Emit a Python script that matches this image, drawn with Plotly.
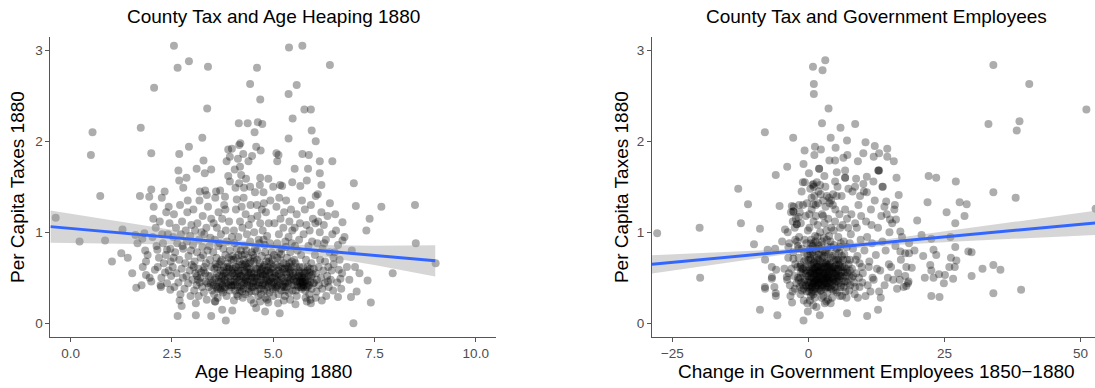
import plotly.graph_objects as go

# ---------------- data ----------------
tax_ticks = [0, 1, 2, 3]
age_ticks = [0, 2.5, 5, 7.5, 10]
age_tick_labels = ["0.0", "2.5", "5.0", "7.5", "10.0"]
emp_ticks = [-25, 0, 25, 50]
emp_tick_labels = ["\u221225", "0", "25", "50"]

# (age heaping 1880, per capita taxes 1880)
age_points = [
    (-0.37, 1.16), (0.22, 0.90), (0.50, 1.85), (0.54, 2.10), (0.73, 1.40), (0.85, 0.91), (1.02, 0.68), (1.25, 0.77), (1.28, 1.03), (1.41, 0.72),
    (1.60, 0.97), (1.62, 0.39), (1.73, 2.15), (1.71, 1.40), (1.75, 0.42), (1.77, 0.93), (1.82, 0.99), (1.84, 0.80), (1.86, 0.68), (1.86, 0.53),
    (1.94, 1.39), (1.99, 1.87), (1.99, 1.47), (2.05, 1.28), (2.04, 1.15), (2.06, 2.59), (1.99, 0.46), (2.08, 0.59), (2.14, 0.81), (2.23, 0.40),
    (2.25, 1.38), (2.26, 0.98), (2.33, 0.56), (2.38, 0.81), (2.42, 1.28), (2.46, 0.37), (2.55, 3.05), (2.64, 2.81), (2.64, 0.08), (2.68, 1.86),
    (2.68, 1.57), (2.74, 0.19), (2.92, 2.88), (2.92, 1.94), (3.09, 0.09), (3.11, 1.70), (3.25, 2.04), (3.28, 1.79), (3.37, 2.36), (3.39, 2.82),
    (3.47, 0.08), (3.47, 1.69), (3.83, 0.03), (4.43, 2.63), (4.60, 2.81), (4.68, 2.46), (4.62, 2.21), (4.73, 2.19), (4.37, 2.20), (4.15, 2.20),
    (4.19, 1.98), (4.54, 2.10), (5.39, 3.03), (5.72, 3.05), (6.40, 2.84), (5.58, 2.62), (5.38, 2.52), (5.77, 2.35), (5.93, 2.35), (5.48, 2.25),
    (5.95, 2.12), (6.05, 2.00), (5.38, 2.03), (5.72, 1.86), (5.88, 1.85), (6.15, 1.78), (6.46, 1.78), (6.15, 1.65), (6.19, 1.52), (6.05, 1.40),
    (6.99, 1.54), (7.04, 1.29), (7.67, 1.28), (8.50, 1.30), (7.38, 1.15), (7.30, 1.02), (8.52, 0.88), (9.01, 0.66), (7.95, 0.55), (7.33, 0.47),
    (7.41, 0.23), (7.13, 0.55), (7.02, 0.62), (7.06, 0.35), (6.92, 0.29), (6.98, 0.00), (6.71, 1.11), (6.53, 1.20), (6.55, 1.02), (6.71, 0.91),
    (6.60, 0.86), (6.49, 0.65), (6.62, 0.59), (6.66, 0.49), (6.60, 0.29), (5.93, 0.22), (5.83, 0.24), (5.55, 0.21), (5.16, 0.11), (4.80, 0.13),
    (4.88, 0.23), (4.58, 0.17), (3.99, 0.14), (3.74, 0.15), (3.56, 0.24),
    (3.98, 1.92), (3.89, 1.91), (4.16, 1.96), (4.58, 1.94), (4.69, 1.90), (5.08, 1.87), (5.13, 1.85), (4.26, 1.86), (4.48, 1.84), (4.13, 1.81),
    (4.39, 1.78), (3.85, 1.78), (3.93, 1.83), (3.31, 1.65), (5.53, 1.70), (5.86, 1.70), (5.83, 1.57), (5.47, 1.55), (5.67, 1.51), (3.89, 1.62),
    (3.93, 1.56), (4.05, 1.69), (4.18, 1.72), (4.21, 1.63), (4.33, 1.59), (4.68, 1.60), (4.88, 1.59), (4.07, 1.49), (4.28, 1.49), (4.43, 1.50),
    (4.55, 1.44), (4.76, 1.44), (5.00, 1.50), (5.22, 1.51), (3.69, 1.46), (3.32, 1.46), (3.59, 1.45), (2.66, 1.68), (2.86, 1.60), (2.78, 1.49),
    (3.19, 1.45), (3.36, 1.41), (3.81, 1.39), (4.16, 1.54), (4.67, 1.52), (5.10, 1.78), (5.17, 1.52),
    (1.52, 0.55), (1.65, 0.88), (1.78, 0.62), (1.90, 0.75), (1.95, 0.50),
    (2.02, 0.95), (2.10, 1.05), (2.15, 0.62), (2.18, 0.72), (2.20, 1.12), (2.24, 0.50), (2.28, 0.88), (2.30, 0.66), (2.32, 1.45), (2.35, 0.75),
    (2.38, 0.44), (2.40, 0.98), (2.42, 0.58), (2.44, 1.10), (2.46, 0.82), (2.48, 0.52), (2.12, 0.85), (2.22, 0.42), (2.36, 1.22), (2.47, 0.68),
    (2.52, 0.62), (2.53, 0.95), (2.55, 1.20), (2.56, 0.40), (2.58, 0.78), (2.60, 1.05), (2.61, 0.55), (2.63, 0.88), (2.66, 0.45), (2.68, 0.70),
    (2.70, 1.30), (2.71, 0.32), (2.72, 0.98), (2.74, 0.60), (2.75, 1.12), (2.77, 0.50), (2.78, 0.82), (2.81, 0.38), (2.83, 0.66), (2.84, 1.02),
    (2.86, 0.52), (2.87, 0.90), (2.88, 1.22), (2.90, 0.44), (2.91, 0.74), (2.94, 0.58), (2.95, 0.96), (2.96, 0.30), (2.98, 1.08), (2.99, 0.64),
    (2.69, 0.25), (2.76, 0.85), (2.89, 1.35), (2.97, 0.80), (2.54, 0.72),
    (3.01, 0.48), (3.02, 0.86), (3.03, 1.25), (3.05, 0.36), (3.06, 0.68), (3.07, 1.02), (3.08, 0.55), (3.11, 0.42), (3.12, 0.78), (3.13, 1.10),
    (3.15, 0.60), (3.16, 0.30), (3.17, 0.92), (3.18, 1.35), (3.20, 0.50), (3.21, 0.72), (3.24, 0.40), (3.25, 0.84), (3.26, 1.18), (3.28, 0.58),
    (3.29, 0.34), (3.30, 0.98), (3.33, 0.46), (3.34, 0.66), (3.35, 1.05), (3.36, 0.26), (3.38, 0.80), (3.39, 1.28), (3.40, 0.52), (3.41, 0.40),
    (3.44, 0.70), (3.45, 0.94), (3.46, 0.44), (3.47, 1.15), (3.48, 0.62), (3.49, 0.36), (3.04, 0.62), (3.09, 0.22), (3.19, 0.45), (3.27, 0.75),
    (3.32, 0.55), (3.43, 0.85), (3.23, 1.00), (3.12, 0.52),
    (3.51, 0.45), (3.52, 0.78), (3.53, 1.10), (3.54, 0.32), (3.55, 0.60), (3.56, 0.92), (3.57, 1.38), (3.58, 0.50), (3.59, 0.40), (3.60, 0.72),
    (3.61, 1.05), (3.62, 0.55), (3.63, 0.28), (3.64, 0.85), (3.65, 1.22), (3.66, 0.46), (3.67, 0.65), (3.69, 0.38), (3.70, 0.58), (3.71, 0.98),
    (3.72, 0.44), (3.73, 0.70), (3.74, 1.15), (3.75, 0.52), (3.76, 0.34), (3.77, 0.82), (3.78, 0.62), (3.79, 1.30), (3.80, 0.48), (3.81, 0.40),
    (3.82, 0.75), (3.83, 1.02), (3.84, 0.56), (3.85, 0.30), (3.86, 0.90), (3.87, 0.66), (3.89, 0.45), (3.90, 0.60), (3.91, 1.12), (3.92, 0.36),
    (3.93, 0.80), (3.94, 0.52), (3.96, 0.42), (3.97, 0.70), (3.98, 0.95), (3.99, 0.55), (3.53, 0.42), (3.58, 0.65), (3.62, 0.38), (3.66, 0.52),
    (3.71, 0.46), (3.75, 0.42), (3.79, 0.55), (3.84, 0.44), (3.88, 0.50), (3.92, 0.62), (3.97, 0.40), (3.57, 0.24), (3.68, 0.88), (3.82, 1.25),
    (4.01, 0.42), (4.02, 0.70), (4.03, 1.02), (4.04, 0.52), (4.06, 0.36), (4.07, 0.62), (4.08, 1.25), (4.09, 0.45), (4.10, 0.82), (4.12, 0.55),
    (4.13, 0.30), (4.14, 0.95), (4.16, 0.48), (4.17, 0.68), (4.18, 1.12), (4.19, 0.40), (4.20, 0.58), (4.22, 0.75), (4.23, 0.35), (4.24, 1.05),
    (4.25, 0.50), (4.26, 0.62), (4.27, 1.38), (4.28, 0.44), (4.29, 0.85), (4.30, 0.56), (4.31, 0.32), (4.32, 1.20), (4.33, 0.66), (4.34, 0.46),
    (4.35, 0.98), (4.37, 0.52), (4.38, 0.38), (4.39, 0.72), (4.40, 1.08), (4.41, 0.55), (4.42, 0.42), (4.43, 0.90), (4.44, 1.30), (4.45, 0.60),
    (4.46, 0.35), (4.47, 0.78), (4.49, 0.50), (4.02, 0.55), (4.06, 0.48), (4.09, 0.62), (4.12, 0.40), (4.16, 0.55), (4.19, 0.52), (4.23, 0.45),
    (4.26, 0.38), (4.29, 0.58), (4.33, 0.50), (4.36, 0.42), (4.40, 0.60), (4.43, 0.48), (4.47, 0.40), (4.04, 0.88), (4.14, 0.75), (4.24, 0.65),
    (4.34, 0.80), (4.44, 0.68), (4.22, 1.28), (4.03, 0.25), (4.25, 0.28), (4.45, 0.26), (4.10, 1.36), (4.46, 1.15),
    (4.51, 0.40), (4.52, 0.68), (4.53, 1.00), (4.54, 0.50), (4.56, 0.35), (4.57, 0.60), (4.59, 0.46), (4.60, 0.80), (4.61, 1.18), (4.62, 0.55),
    (4.63, 0.30), (4.64, 0.92), (4.66, 0.45), (4.67, 0.66), (4.68, 1.10), (4.69, 0.38), (4.70, 0.58), (4.72, 0.74), (4.73, 0.42), (4.74, 1.02),
    (4.75, 0.52), (4.76, 0.62), (4.77, 1.32), (4.78, 0.44), (4.79, 0.86), (4.80, 0.54), (4.81, 0.28), (4.82, 1.22), (4.83, 0.68), (4.84, 0.48),
    (4.85, 0.96), (4.87, 0.40), (4.88, 0.72), (4.89, 1.10), (4.90, 0.56), (4.91, 0.34), (4.92, 0.88), (4.93, 1.35), (4.94, 0.60), (4.95, 0.46),
    (4.96, 0.78), (4.98, 0.50), (4.99, 0.38), (4.53, 0.55), (4.57, 0.42), (4.61, 0.50), (4.65, 0.38), (4.69, 0.56), (4.73, 0.60), (4.77, 0.36),
    (4.82, 0.50), (4.86, 0.58), (4.90, 0.44), (4.95, 0.65), (4.55, 0.82), (4.66, 0.88), (4.76, 0.92), (4.88, 0.62), (4.98, 0.70), (4.60, 1.30),
    (4.72, 1.25), (4.52, 0.22), (4.68, 0.24), (4.85, 0.26),
    (5.01, 0.45), (5.02, 0.75), (5.03, 1.10), (5.04, 0.55), (5.06, 0.38), (5.07, 0.64), (5.08, 1.28), (5.09, 0.48), (5.10, 0.88), (5.12, 0.58),
    (5.13, 0.32), (5.14, 0.98), (5.15, 1.38), (5.16, 0.44), (5.17, 0.70), (5.18, 1.15), (5.19, 0.52), (5.20, 0.36), (5.21, 0.82), (5.23, 0.60),
    (5.24, 0.42), (5.25, 1.05), (5.26, 0.66), (5.27, 1.22), (5.28, 0.46), (5.29, 0.30), (5.30, 0.90), (5.31, 0.56), (5.32, 1.35), (5.33, 0.40),
    (5.34, 0.72), (5.36, 0.50), (5.37, 0.62), (5.38, 0.95), (5.39, 0.34), (5.40, 1.12), (5.41, 0.48), (5.42, 0.78), (5.43, 0.58), (5.44, 1.25),
    (5.45, 0.42), (5.46, 0.68), (5.47, 1.02), (5.48, 0.36), (5.49, 0.55), (5.03, 0.50), (5.08, 0.40), (5.13, 0.62), (5.18, 0.48), (5.23, 0.40),
    (5.28, 0.60), (5.33, 0.54), (5.38, 0.44), (5.44, 0.50), (5.12, 0.22), (5.26, 0.25), (5.42, 0.26), (5.15, 0.78), (5.31, 0.84), (5.46, 0.88),
    (5.51, 0.42), (5.52, 0.70), (5.53, 1.05), (5.54, 0.50), (5.56, 0.36), (5.57, 0.62), (5.58, 1.20), (5.59, 0.46), (5.60, 0.80), (5.62, 0.52),
    (5.63, 0.40), (5.64, 0.92), (5.65, 0.55), (5.66, 1.10), (5.67, 0.44), (5.68, 0.48), (5.69, 0.75), (5.70, 0.38), (5.71, 1.35), (5.72, 0.50),
    (5.73, 0.45), (5.74, 0.62), (5.75, 0.98), (5.76, 0.42), (5.77, 0.55), (5.78, 1.25), (5.79, 0.36), (5.80, 0.48), (5.81, 0.70), (5.82, 1.08),
    (5.83, 0.44), (5.84, 0.58), (5.85, 0.40), (5.87, 0.85), (5.88, 0.52), (5.89, 0.32), (5.90, 1.02), (5.91, 0.60), (5.92, 0.46), (5.93, 1.30),
    (5.94, 0.66), (5.95, 0.38), (5.96, 0.90), (5.97, 0.54), (5.98, 1.15), (5.99, 0.44), (5.66, 0.46), (5.71, 0.42), (5.74, 0.40), (5.78, 0.46),
    (5.70, 0.52), (5.63, 0.58), (5.85, 0.62), (5.58, 0.30), (5.80, 0.28), (5.92, 0.26), (5.54, 0.85),
    (6.01, 0.45), (6.03, 0.75), (6.04, 1.10), (6.06, 0.55), (6.07, 0.35), (6.09, 0.88), (6.10, 1.42), (6.12, 0.62), (6.13, 0.42), (6.15, 1.00),
    (6.16, 0.70), (6.18, 0.50), (6.19, 1.22), (6.21, 0.38), (6.22, 0.82), (6.24, 0.58), (6.25, 1.08), (6.27, 0.44), (6.28, 0.68), (6.30, 0.92),
    (6.31, 0.30), (6.33, 0.52), (6.34, 1.18), (6.36, 0.62), (6.37, 0.40), (6.39, 0.78), (6.40, 1.32), (6.42, 0.48), (6.44, 0.58), (6.46, 0.98),
    (6.48, 0.36), (6.49, 0.72), (6.05, 0.28), (6.20, 0.25), (6.35, 0.46), (6.11, 1.12), (6.26, 0.88),
    (6.52, 0.78), (6.58, 0.45), (6.64, 0.70), (6.70, 0.55), (6.76, 0.95), (6.82, 0.62), (6.88, 0.48), (6.94, 0.80), (6.68, 0.38),
    (3.55, 0.48), (3.61, 0.62), (3.64, 0.40), (3.70, 0.68), (3.73, 0.50), (3.77, 0.58), (3.80, 0.38), (3.86, 0.62), (3.90, 0.72), (3.95, 0.46),
    (4.00, 0.60), (4.05, 0.42), (4.08, 0.72), (4.11, 0.50), (4.15, 0.64), (4.18, 0.36), (4.21, 0.52), (4.27, 0.70), (4.31, 0.48), (4.35, 0.62),
    (4.38, 0.56), (4.42, 0.66), (4.46, 0.52), (4.50, 0.44), (4.54, 0.72), (4.58, 0.52), (4.62, 0.42), (4.66, 0.62), (4.70, 0.48), (4.74, 0.54),
    (4.78, 0.64), (4.81, 0.42), (4.85, 0.52), (4.89, 0.46), (4.93, 0.56), (4.97, 0.42), (5.00, 0.62), (5.05, 0.52), (5.10, 0.42), (5.14, 0.54),
    (5.19, 0.62), (5.22, 0.50), (5.27, 0.40), (5.32, 0.64), (5.35, 0.46), (5.40, 0.56), (5.45, 0.62), (5.50, 0.48), (5.55, 0.56), (5.60, 0.42),
    (5.64, 0.50), (5.68, 0.40), (5.72, 0.46), (5.76, 0.50), (5.80, 0.56), (5.84, 0.48), (5.88, 0.42), (5.94, 0.52), (6.00, 0.60), (6.08, 0.48),
    (3.45, 0.52), (3.38, 0.44), (3.30, 0.62), (3.22, 0.56), (3.14, 0.48), (4.20, 0.80), (4.50, 0.75), (4.80, 0.78), (5.10, 0.72), (5.40, 0.66),
    (3.72, 0.36), (3.83, 0.52), (3.96, 0.58), (4.04, 0.46), (4.13, 0.58), (4.22, 0.42), (4.30, 0.64), (4.37, 0.46), (4.45, 0.56), (4.52, 0.46),
    (4.60, 0.60), (4.68, 0.52), (4.75, 0.44), (4.83, 0.58), (4.92, 0.48), (5.02, 0.56), (5.11, 0.46), (5.21, 0.56), (5.30, 0.44), (5.39, 0.60),
    (5.48, 0.52), (5.57, 0.46), (5.65, 0.62), (5.73, 0.56), (5.82, 0.40), (5.90, 0.56), (4.10, 0.32), (4.40, 0.34), (4.70, 0.32), (5.00, 0.30),
    (5.30, 0.36), (4.00, 0.74), (4.30, 0.76), (4.60, 0.70), (4.90, 0.68), (5.20, 0.76), (3.90, 0.42), (4.85, 0.36), (5.55, 0.66), (5.05, 0.40),
]

# (change in government employees 1850-1880, per capita taxes 1880)
emp_points = [
    (-27.8, 0.99), (-20.0, 1.05), (-19.9, 0.50), (-12.9, 1.48), (-11.1, 1.31), (-12.4, 1.10), (-10.0, 0.87), (-8.9, 1.04), (-8.0, 2.10), (-8.9, 0.15),
    (-5.7, 0.09), (-6.0, 1.63), (-3.9, 1.72), (-2.8, 2.04), (-5.3, 1.29), (-4.3, 1.03), (-8.0, 0.40), (-7.5, 0.81), (-6.0, 0.33), (-6.7, 0.51),
    (-3.0, 0.23), (-0.9, 0.03), (0.84, 2.82), (3.1, 2.89), (2.6, 2.78), (1.0, 2.63), (1.0, 2.52), (3.7, 2.36), (2.5, 2.20), (5.9, 2.15),
    (8.6, 2.19), (4.1, 2.04), (7.1, 2.01), (-0.7, 1.90), (1.2, 1.94), (2.3, 1.91), (1.1, 1.85), (-0.9, 1.75), (0.1, 1.65), (5.0, 1.93),
    (10.5, 1.99), (12.2, 1.95), (14.5, 1.92), (9.1, 1.78), (10.1, 1.87), (12.0, 1.83), (13.0, 1.87), (14.5, 1.83), (15.7, 1.78), (16.2, 1.60),
    (13.0, 1.68), (13.6, 1.50), (14.3, 1.34), (15.9, 1.30), (16.6, 1.41), (16.1, 1.14), (16.9, 1.01), (22.1, 1.62), (23.5, 1.60), (27.1, 1.56),
    (21.9, 1.33), (27.8, 1.33), (29.1, 1.31), (25.4, 1.22), (28.7, 1.18), (27.0, 1.10), (20.0, 1.13), (20.8, 0.97), (26.1, 0.95), (27.0, 0.84),
    (23.0, 0.81), (21.1, 0.74), (23.5, 0.75), (29.4, 0.79), (30.0, 0.78), (19.5, 0.80), (18.5, 0.77), (16.9, 0.79), (26.2, 0.72), (27.2, 0.69),
    (26.9, 0.62), (25.9, 0.62), (22.4, 0.64), (19.0, 0.61), (32.0, 0.60), (34.0, 0.64), (35.3, 0.59), (30.0, 0.52), (25.1, 0.53), (24.0, 0.54),
    (23.0, 0.50), (21.4, 0.50), (26.6, 0.49), (24.9, 0.44), (18.4, 0.46), (18.0, 0.41), (22.6, 0.30), (24.1, 0.29), (34.0, 0.33), (39.1, 0.37),
    (34.0, 2.84), (40.6, 2.63), (33.1, 2.19), (38.8, 2.22), (38.3, 2.12), (34.0, 1.44), (38.1, 1.38), (51.1, 2.35), (52.8, 1.26), (12.8, 0.15),
    (10.8, 0.08), (7.1, 0.11), (2.1, 0.09), (-0.1, 0.13), (-0.2, 0.22), (3.3, 0.24), (4.1, 0.22),
    (7.17, 1.85), (3.86, 1.79), (4.91, 1.79), (6.43, 1.82), (1.97, 1.70), (1.97, 1.70), (2.94, 1.62), (5.22, 1.66), (6.75, 1.68), (6.75, 1.60),
    (6.75, 1.60), (8.77, 1.59), (-1.03, 1.55), (0.92, 1.53), (2.15, 1.52), (4.91, 1.56),
    (-3.05, 1.29), (-1.71, 1.30), (-0.29, 1.32), (0.92, 1.31), (-2.76, 1.23), (-2.76, 1.23), (-1.84, 1.17), (-2.87, 1.12), (-2.13, 1.09), (-2.13, 1.09),
    (-6.12, 0.82), (-7.96, 0.70), (-6.73, 0.62), (-5.94, 0.59), (-4.41, 0.60), (-3.97, 0.51), (-6.73, 0.49), (-7.96, 0.38), (-6.25, 0.40), (-5.99, 0.30),
    (-4.83, 0.90), (-3.68, 0.84), (-2.76, 0.71), (-1.40, 0.64),
    (10.11, 1.53), (10.74, 1.61), (11.95, 1.56), (12.87, 1.68), (12.87, 1.68), (13.68, 1.50), (9.50, 1.40), (10.74, 1.44), (15.0, 1.14), (13.97, 1.28),
    (8.58, 1.50), (22.6, 0.93), (17.8, 0.77), (22.6, 0.58),
    (-3.9, 0.48), (-3.7, 0.72), (-3.5, 0.88), (-3.4, 0.42), (-3.2, 1.22), (-3.1, 0.60), (-2.9, 0.35), (-2.8, 0.78), (-2.6, 0.52), (-2.5, 1.05),
    (-2.4, 0.65), (-2.2, 0.44), (-2.1, 0.90), (-3.6, 0.55), (-2.7, 1.28), (-3.3, 0.30), (-2.3, 1.15), (-3.8, 1.00),
    (-1.9, 0.50), (-1.8, 0.72), (-1.7, 0.95), (-1.6, 0.40), (-1.5, 0.62), (-1.4, 1.10), (-1.3, 0.45), (-1.2, 0.82), (-1.1, 0.55), (-1.0, 1.30),
    (-0.9, 0.38), (-0.8, 0.68), (-0.7, 0.92), (-0.6, 0.48), (-0.5, 1.18), (-0.4, 0.58), (-0.3, 0.35), (-0.2, 0.76), (-0.1, 1.02), (-1.95, 0.85),
    (-1.45, 0.32), (-0.95, 0.60), (-0.45, 0.42), (-1.25, 1.45), (-0.65, 1.55), (-0.15, 0.52), (-1.6, 1.22), (-0.85, 0.25), (-0.35, 0.88),
    (0.0, 0.45), (0.1, 0.62), (0.15, 0.80), (0.2, 1.05), (0.25, 0.38), (0.3, 0.55), (0.35, 1.48), (0.4, 0.70), (0.45, 0.30), (0.5, 0.92),
    (0.55, 0.50), (0.6, 1.25), (0.65, 0.42), (0.7, 0.65), (0.75, 1.52), (0.8, 0.85), (0.85, 0.36), (0.9, 0.58), (0.95, 1.12), (1.0, 0.46),
    (1.05, 0.74), (1.1, 1.40), (1.15, 0.28), (1.2, 0.54), (1.25, 0.96), (1.3, 0.40), (1.35, 1.30), (1.4, 0.62), (1.45, 0.48), (1.5, 0.82),
    (1.55, 1.55), (1.6, 0.35), (1.65, 0.58), (1.7, 1.08), (1.75, 0.44), (1.8, 0.70), (1.85, 1.45), (1.9, 0.52), (1.95, 0.38), (0.05, 0.52),
    (0.22, 0.48), (0.42, 0.56), (0.62, 0.50), (0.82, 0.44), (1.02, 0.55), (1.22, 0.46), (1.42, 0.52), (1.62, 0.48), (1.82, 0.56), (0.12, 0.35),
    (0.52, 0.40), (0.92, 0.32), (1.32, 0.58), (1.72, 0.42), (0.32, 0.72), (0.72, 0.78), (1.12, 0.68), (1.52, 0.66), (1.92, 0.76), (0.18, 1.20),
    (0.58, 1.38), (0.98, 1.50), (1.38, 1.18), (1.78, 1.32), (0.28, 0.25), (0.88, 0.20), (1.48, 0.18), (0.48, 0.88), (1.28, 0.90), (1.68, 0.95),
    (2.0, 0.45), (2.1, 0.68), (2.15, 1.00), (2.2, 0.52), (2.25, 1.42), (2.3, 0.36), (2.35, 0.60), (2.4, 0.86), (2.45, 0.48), (2.5, 1.20),
    (2.55, 0.40), (2.6, 0.72), (2.65, 0.55), (2.7, 1.35), (2.75, 0.30), (2.8, 0.62), (2.85, 0.94), (2.9, 0.46), (2.95, 1.10), (3.0, 0.54),
    (3.05, 0.38), (3.1, 0.78), (3.15, 1.28), (3.2, 0.50), (3.25, 0.66), (3.3, 1.02), (3.35, 0.42), (3.4, 1.40), (3.45, 0.58), (3.5, 0.34),
    (3.55, 0.84), (3.6, 0.48), (3.65, 1.15), (3.7, 0.62), (3.75, 0.44), (3.8, 0.96), (3.85, 0.56), (3.9, 1.32), (3.95, 0.40), (2.05, 0.58),
    (2.32, 0.45), (2.62, 0.48), (2.92, 0.56), (3.22, 0.44), (3.52, 0.52), (3.82, 0.48), (2.12, 0.82), (2.52, 0.90), (2.92, 0.74), (3.32, 0.80),
    (3.72, 0.76), (2.42, 0.28), (3.02, 0.22), (3.62, 0.26), (3.12, 1.50), (3.82, 1.38), (2.72, 1.18), (3.42, 0.68),
    (4.0, 0.50), (4.1, 0.72), (4.2, 1.05), (4.3, 0.42), (4.4, 0.62), (4.5, 1.30), (4.6, 0.36), (4.7, 0.86), (4.8, 0.55), (4.9, 1.12),
    (5.0, 0.46), (5.1, 0.70), (5.2, 1.40), (5.3, 0.34), (5.4, 0.60), (5.5, 0.95), (5.6, 0.48), (5.7, 1.20), (5.8, 0.66), (5.9, 0.40),
    (4.05, 0.90), (4.25, 0.58), (4.45, 0.48), (4.65, 1.02), (4.85, 0.40), (5.05, 0.60), (5.25, 0.82), (5.45, 0.52), (5.65, 0.78), (5.85, 1.05),
    (4.15, 1.35), (4.55, 1.42), (4.95, 1.25), (5.35, 1.50), (5.75, 0.30), (4.35, 0.28), (4.75, 0.70), (5.15, 0.56), (5.55, 0.44), (5.95, 0.88),
    (6.0, 0.52), (6.15, 0.74), (6.3, 1.08), (6.45, 0.40), (6.6, 0.62), (6.75, 1.25), (6.9, 0.46), (7.05, 0.84), (7.2, 0.56), (7.35, 1.48),
    (7.5, 0.36), (7.65, 0.70), (7.8, 0.98), (7.95, 0.50), (6.2, 0.30), (6.5, 0.90), (6.8, 0.35), (7.1, 1.15), (7.4, 0.65), (7.7, 0.42),
    (6.1, 1.40), (7.3, 1.05), (7.9, 1.20), (6.4, 0.58), (7.0, 0.28), (7.6, 0.88),
    (8.0, 0.60), (8.2, 0.82), (8.4, 0.45), (8.6, 1.10), (8.8, 0.55), (9.0, 0.74), (9.2, 1.30), (9.4, 0.40), (9.6, 0.92), (9.8, 0.62),
    (8.1, 1.45), (8.5, 0.32), (8.9, 1.05), (9.3, 0.50), (9.7, 1.18), (9.1, 0.28), (8.7, 0.70), (9.9, 0.45),
    (10.0, 0.55), (10.3, 0.80), (10.6, 1.12), (10.9, 0.42), (11.2, 0.68), (11.5, 1.25), (11.8, 0.50), (10.2, 1.45), (10.8, 0.95), (11.4, 0.35),
    (11.7, 0.88), (10.5, 0.30), (11.1, 0.62), (11.6, 1.08),
    (12.0, 0.48), (12.4, 0.75), (12.8, 1.05), (13.2, 0.58), (13.6, 0.90), (14.0, 0.42), (14.4, 1.20), (14.8, 0.65), (12.2, 1.35), (13.0, 0.35),
    (12.6, 0.60), (13.4, 1.18), (14.2, 0.80), (14.6, 0.50), (13.3, 0.28), (14.9, 1.00),
    (15.2, 0.62), (15.6, 0.48), (16.0, 0.85), (16.5, 0.55), (17.0, 0.70), (17.5, 0.40), (18.0, 0.62), (18.5, 0.88), (15.4, 1.10), (16.3, 0.38),
    (17.2, 0.95), (15.8, 1.25), (16.8, 0.48), (17.8, 0.52), (18.3, 0.44),
    (-2.5, 0.38), (-1.8, 0.48), (-1.2, 0.36), (-0.6, 0.62), (0.0, 0.70), (0.4, 0.45), (0.8, 0.60), (1.2, 0.38), (1.6, 0.72), (2.0, 0.64),
    (2.4, 0.42), (2.8, 0.52), (3.2, 0.62), (3.6, 0.40), (4.0, 0.66), (4.4, 0.50), (4.8, 0.62), (5.2, 0.46), (5.6, 0.64), (6.0, 0.42),
    (6.4, 0.70), (6.8, 0.52), (7.2, 0.44), (7.6, 0.58), (-2.0, 0.62), (-1.4, 0.56), (-0.8, 0.46), (-0.2, 0.40), (0.6, 0.34), (1.0, 0.66),
    (1.4, 0.42), (1.8, 0.62), (2.2, 0.36), (2.6, 0.66), (3.0, 0.44), (3.4, 0.50), (3.8, 0.64), (4.2, 0.38), (4.6, 0.56), (5.0, 0.36),
    (5.4, 0.70), (5.8, 0.52), (6.2, 0.62), (6.6, 0.46), (7.0, 0.60),
    (-1.5, 0.50), (-1.0, 0.42), (-0.5, 0.55), (0.2, 0.58), (0.5, 0.64), (0.7, 0.40), (0.9, 0.50), (1.1, 0.60), (1.3, 0.48), (1.5, 0.56),
    (1.7, 0.50), (1.9, 0.44), (2.1, 0.56), (2.3, 0.62), (2.5, 0.50), (2.7, 0.42), (2.9, 0.60), (3.1, 0.48), (3.3, 0.56), (3.5, 0.64),
    (3.7, 0.50), (3.9, 0.58), (4.1, 0.46), (4.3, 0.56), (4.5, 0.62), (4.7, 0.44), (4.9, 0.52), (5.1, 0.64), (5.3, 0.50), (5.5, 0.58),
    (5.9, 0.62), (6.3, 0.50), (6.7, 0.56), (7.1, 0.70), (7.5, 0.52), (0.3, 0.82), (1.0, 0.88), (1.8, 0.86), (2.6, 0.80), (3.4, 0.92),
    (4.2, 0.84), (5.0, 0.78), (5.8, 0.84), (6.6, 0.76), (-0.8, 0.78), (-1.8, 0.82), (-2.4, 0.92), (8.2, 0.52), (8.6, 0.40), (9.4, 0.66),
    (-0.5, 0.70), (0.1, 0.42), (0.6, 0.56), (1.1, 0.44), (1.6, 0.62), (2.1, 0.50), (2.6, 0.58), (3.1, 0.66), (3.6, 0.54), (4.1, 0.60),
    (4.6, 0.48), (5.1, 0.54), (5.6, 0.70), (6.1, 0.56), (-1.2, 0.60), (0.4, 0.76), (1.4, 0.80), (2.4, 0.74), (3.4, 0.40), (4.4, 0.74),
]

# linear fit and 95% band, read at a few x positions
age_fit_x = [-0.5, 9.0]
age_fit_y = [1.063, 0.687]
age_band_x = [-0.5, 1.0, 2.0, 3.0, 4.0, 4.6, 5.5, 6.5, 7.5, 9.0]
age_band_hi = [1.241, 1.132, 1.060, 0.987, 0.921, 0.892, 0.864, 0.857, 0.852, 0.859]
age_band_lo = [0.885, 0.876, 0.870, 0.863, 0.849, 0.832, 0.788, 0.717, 0.642, 0.515]

emp_fit_x = [-28.75, 53.75]
emp_fit_y = [0.649, 1.110]
emp_band_x = [-28.75, -15.0, -5.0, 0.0, 5.0, 15.0, 30.0, 45.0, 53.75]
emp_band_hi = [0.749, 0.786, 0.812, 0.835, 0.863, 0.929, 1.048, 1.172, 1.245]
emp_band_lo = [0.549, 0.666, 0.752, 0.785, 0.813, 0.859, 0.908, 0.952, 0.975]

# ---------------- figure ----------------
W, H = 1095, 388
FONT = "Liberation Sans, Arial, Helvetica, sans-serif"
PT_COLOR = "rgba(0,0,0,0.32)"
BAND_COLOR = "rgba(153,153,153,0.4)"
LINE_BLUE = "#3366FF"
AX_COLOR = "#555555"

fig = go.Figure()


def add_panel(points, fx, fy, bx, bhi, blo, xa, ya):
    px_, py_ = zip(*points)
    fig.add_trace(go.Scatter(x=list(px_), y=list(py_), mode="markers", xaxis=xa, yaxis=ya,
                             marker=dict(size=8, color=PT_COLOR, line=dict(width=0)),
                             hoverinfo="skip", showlegend=False))
    fig.add_trace(go.Scatter(x=bx + bx[::-1], y=bhi + blo[::-1], mode="lines", fill="toself",
                             fillcolor=BAND_COLOR, line=dict(width=0), xaxis=xa, yaxis=ya,
                             hoverinfo="skip", showlegend=False))
    fig.add_trace(go.Scatter(x=fx, y=fy, mode="lines", line=dict(color=LINE_BLUE, width=3),
                             xaxis=xa, yaxis=ya, hoverinfo="skip", showlegend=False))


add_panel(age_points, age_fit_x, age_fit_y, age_band_x, age_band_hi, age_band_lo, "x", "y")
add_panel(emp_points, emp_fit_x, emp_fit_y, emp_band_x, emp_band_hi, emp_band_lo, "x2", "y2")

axis_common = dict(showline=True, linecolor=AX_COLOR, linewidth=1, ticks="outside", ticklen=4,
                   tickwidth=1, tickcolor=AX_COLOR, showgrid=False, zeroline=False,
                   tickfont=dict(family=FONT, size=13.5, color="#4D4D4D"), fixedrange=True)

y_dom = [(H - 337.0) / H, (H - 36.7) / H]
left_dom = [50.4 / W, 496.0 / W]
right_dom = [652.0 / W, 1.0]
right_max = -28.75 + (W - 652.0) / 5.44

fig.update_layout(
    width=W, height=H, margin=dict(l=0, r=0, t=0, b=0),
    paper_bgcolor="white", plot_bgcolor="white", showlegend=False,
    font=dict(family=FONT),
    xaxis=dict(domain=left_dom, range=[-0.5, 10.5], anchor="y", tickvals=age_ticks,
               ticktext=age_tick_labels, **axis_common),
    yaxis=dict(domain=y_dom, range=[-0.15, 3.15], anchor="x", tickvals=tax_ticks, **axis_common),
    xaxis2=dict(domain=right_dom, range=[-28.75, right_max], anchor="y2", tickvals=emp_ticks,
                ticktext=emp_tick_labels, **axis_common),
    yaxis2=dict(domain=y_dom, range=[-0.15, 3.15], anchor="x2", tickvals=tax_ticks, **axis_common),
)

left_cx = (50.4 + 496.0) / 2
right_cx = (652.0 + 1100.7) / 2
ann = []
for cx, title, xlab, ylx in [
    (left_cx, "County Tax and Age Heaping 1880", "Age Heaping 1880", 18.2),
    (right_cx, "County Tax and Government Employees", "Change in Government Employees 1850\u22121880", 621.3),
]:
    ann.append(dict(text=title, x=cx / W, y=1 - 16.5 / H, xref="paper", yref="paper",
                    xanchor="center", yanchor="middle", showarrow=False,
                    font=dict(family=FONT, size=19, color="black")))
    ann.append(dict(text=xlab, x=cx / W, y=1 - 371.7 / H, xref="paper", yref="paper",
                    xanchor="center", yanchor="middle", showarrow=False,
                    font=dict(family=FONT, size=19, color="black")))
    ann.append(dict(text="Per Capita Taxes 1880", x=ylx / W, y=1 - 186.8 / H, xref="paper",
                    yref="paper", xanchor="center", yanchor="middle", textangle=-90,
                    showarrow=False, font=dict(family=FONT, size=19, color="black")))
fig.update_layout(annotations=ann)

fig.write_html(
    "out.html",
    config={"displayModeBar": False, "staticPlot": True},
    post_script="document.body.style.margin='0';document.body.style.overflow='hidden';",
)
